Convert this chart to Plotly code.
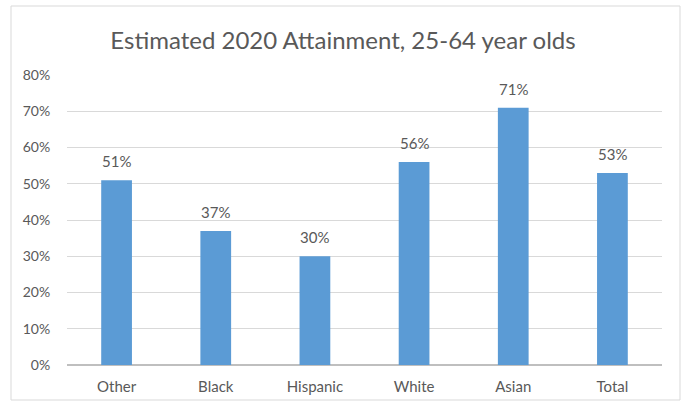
import plotly.graph_objects as go

categories = ["Other", "Black", "Hispanic", "White", "Asian", "Total"]
values = [51, 37, 30, 56, 71, 53]
y_ticks = [0, 10, 20, 30, 40, 50, 60, 70, 80]
title_text = "Estimated 2020 Attainment, 25-64 year olds"

FONT = "Lato, Calibri, Arial, sans-serif"
TXT = "#595959"

fig = go.Figure(
    go.Bar(
        x=categories,
        y=values,
        marker=dict(color="#5B9BD5", line=dict(width=0)),
        width=0.31,
        hoverinfo="x+y",
    )
)

for c, v in zip(categories, values):
    fig.add_annotation(
        x=c, y=v, text=f"{v}%", showarrow=False,
        yshift=19, yanchor="middle", xanchor="center",
        font=dict(family=FONT, size=15, color=TXT),
    )

fig.update_layout(
    width=686,
    height=406,
    margin=dict(l=67, r=24, t=75, b=41, autoexpand=False),
    paper_bgcolor="white",
    plot_bgcolor="white",
    showlegend=False,
    title=dict(
        text=title_text,
        x=0.50,
        xanchor="center",
        y=1 - 41 / 406,
        yanchor="middle",
        font=dict(family=FONT, size=24, color=TXT),
    ),
    font=dict(family=FONT, color=TXT),
    shapes=[
        dict(
            type="rect", xref="paper", yref="paper",
            x0=-56 / 595, x1=1 + 18 / 595,
            y0=-35 / 290, y1=1 + 69 / 290,
            line=dict(color="#D9D9D9", width=1),
            fillcolor="rgba(0,0,0,0)",
            layer="below",
        )
    ],
)

fig.update_yaxes(
    range=[0, 80],
    tickvals=y_ticks,
    ticktext=[f"{v}%" for v in y_ticks],
    showgrid=True,
    gridcolor="#D9D9D9",
    gridwidth=1,
    zeroline=True,
    zerolinecolor="#BFBFBF",
    zerolinewidth=1.5,
    showline=False,
    ticks="outside",
    ticklen=13,
    tickcolor="rgba(0,0,0,0)",
    tickfont=dict(family=FONT, size=14, color=TXT),
    fixedrange=True,
    automargin=False,
)

fig.update_xaxes(
    showgrid=False,
    showline=False,
    ticks="outside",
    ticklen=8,
    tickcolor="rgba(0,0,0,0)",
    tickfont=dict(family=FONT, size=15, color=TXT),
    fixedrange=True,
    automargin=False,
)

fig.write_html("out.html")
